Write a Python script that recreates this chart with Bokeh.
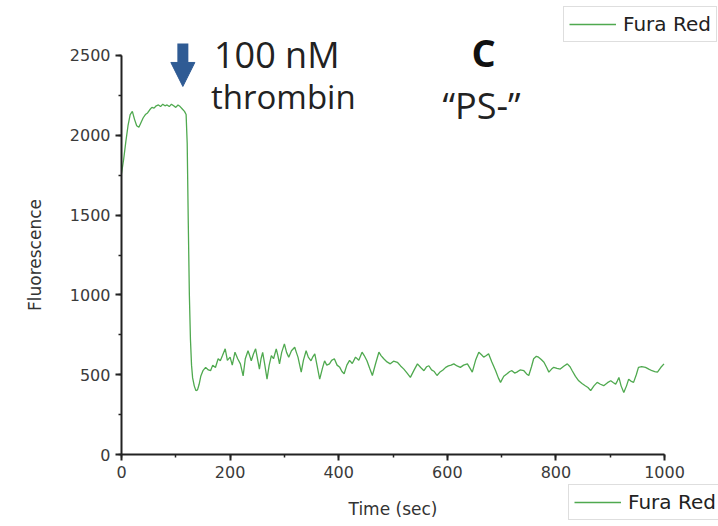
from bokeh.plotting import figure
from bokeh.models import Range1d, Label, Arrow, NormalHead, Legend, LegendItem, SingleIntervalTicker
from bokeh.embed import file_html
from bokeh.resources import INLINE

# ---------------- data ----------------
time_sec = [
    0, 4, 8, 12, 16, 20, 24, 28, 32, 36, 40, 44, 48, 52, 56, 60, 64, 68, 72, 76,
    80, 84, 88, 92, 96, 100, 104, 108, 112, 116, 119, 121, 123, 125, 127, 129, 131, 134, 137, 140,
    143, 146, 150, 155, 160, 164, 168, 173, 178, 182, 186, 191, 195, 200, 204, 209, 214, 219, 224, 228,
    233, 236, 239, 243, 247, 251, 254, 257, 260, 264, 268, 272, 276, 280, 285, 288, 291, 295, 300, 304,
    308, 313, 319, 322, 325, 331, 335, 340, 344, 349, 352, 356, 360, 365, 370, 374, 378, 383, 387, 392,
    397, 402, 406, 410, 415, 420, 425, 431, 437, 443, 447, 452, 457, 462, 468, 474, 478, 483, 489, 495,
    501, 508, 514, 520, 526, 532, 539, 545, 551, 557, 562, 566, 571, 576, 581, 586, 592, 597, 602, 607,
    612, 618, 624, 630, 637, 642, 646, 652, 658, 663, 667, 672, 676, 682, 689, 694, 698, 704, 710, 715,
    719, 724, 728, 734, 741, 746, 750, 755, 759, 764, 768, 773, 778, 783, 787, 792, 796, 802, 808, 815,
    821, 826, 830, 836, 842, 848, 854, 859, 864, 870, 876, 882, 888, 895, 901, 906, 910, 913, 916, 920,
    925, 930, 934, 938, 943, 948, 952, 958, 965, 971, 977, 982, 987, 993, 999,
]
fluorescence = [
    1760, 1850, 1960, 2060, 2130, 2150, 2100, 2060, 2050, 2080, 2110, 2130, 2140, 2160, 2175, 2170, 2185, 2190, 2180, 2195,
    2185, 2190, 2180, 2195, 2185, 2175, 2190, 2180, 2165, 2150, 2130, 1950, 1450, 1000, 720, 560, 480, 430, 400, 405,
    440, 490, 525, 546, 530, 525, 560, 545, 600, 587, 620, 662, 590, 610, 560, 641, 600, 568, 493, 600,
    650, 620, 587, 630, 662, 590, 535, 600, 640, 560, 472, 560, 620, 600, 662, 620, 568, 640, 693, 640,
    610, 650, 672, 640, 610, 516, 590, 650, 610, 587, 610, 631, 560, 472, 540, 587, 560, 568, 590, 600,
    560, 546, 520, 506, 560, 590, 570, 610, 590, 641, 620, 587, 540, 495, 570, 641, 620, 600, 580, 568,
    585, 578, 555, 535, 510, 483, 530, 568, 545, 525, 550, 556, 530, 520, 495, 515, 530, 546, 555, 560,
    568, 555, 546, 560, 568, 540, 516, 590, 641, 625, 610, 620, 631, 580, 525, 480, 452, 490, 506, 520,
    525, 510, 516, 530, 525, 505, 495, 550, 600, 615, 610, 595, 578, 545, 516, 535, 546, 540, 535, 555,
    568, 550, 525, 490, 462, 445, 431, 420, 400, 430, 452, 440, 431, 450, 462, 450, 441, 460, 483, 430,
    389, 430, 472, 460, 452, 500, 546, 550, 546, 535, 525, 520, 516, 545, 568,
]
series_label = "Fura Red"
x_title = "Time (sec)"
y_title = "Fluorescence"

# ---------------- figure ----------------
# The frame covers the whole canvas; the axes are pinned at the origin so that
# the annotations and both legends can sit anywhere without being clipped.
p = figure(width=718, height=526, output_backend="svg", toolbar_location=None,
           x_range=Range1d(-222.8, 1099.4), y_range=Range1d(-451.1, 2844.6),
           min_border_left=0, min_border_right=0, min_border_top=0, min_border_bottom=0)
p.outline_line_color = None
p.grid.visible = False
p.background_fill_color = "white"

line = p.line(time_sec, fluorescence, line_color="#4fa94f", line_width=1.3)

for ax in (p.xaxis, p.yaxis):
    ax.fixed_location = 0
    ax.axis_line_width = 2
    ax.axis_line_color = "#222222"
    ax.major_tick_line_width = 2
    ax.major_tick_line_color = "#222222"
    ax.minor_tick_line_width = 1.5
    ax.minor_tick_line_color = "#222222"
    ax.major_tick_out = 6
    ax.major_tick_in = 0
    ax.minor_tick_out = 3
    ax.minor_tick_in = 0
    ax.major_label_text_font = "DejaVu Sans"
    ax.major_label_text_font_size = "16px"
    ax.major_label_text_color = "#3a3a3a"
    ax.major_label_standoff = 5
    ax.axis_label_text_font = "DejaVu Sans"
    ax.axis_label_text_font_size = "17px"
    ax.axis_label_text_font_style = "normal"
    ax.axis_label_text_color = "#333333"

p.xaxis.bounds = (0, 1000)
p.yaxis.bounds = (0, 2500)
p.xaxis.ticker = SingleIntervalTicker(interval=200, num_minor_ticks=2)
p.yaxis.ticker = SingleIntervalTicker(interval=500, num_minor_ticks=2)
p.xaxis.axis_label = x_title
p.yaxis.axis_label = y_title
p.xaxis.axis_label_standoff = 18
p.yaxis.axis_label_standoff = 22

# ---------------- annotations ----------------
title_font = "Open Sans"
p.add_layout(Label(x=286, y=2506, text="100 nM", text_align="center", text_baseline="alphabetic",
                   text_font=title_font, text_font_size="36px", text_color="#222222"))
p.add_layout(Label(x=298, y=2244, text="thrombin", text_align="center", text_baseline="alphabetic",
                   text_font=title_font, text_font_size="33px", text_color="#222222"))
p.add_layout(Label(x=667, y=2525, text="C", text_align="center", text_baseline="alphabetic",
                   text_font=title_font, text_font_size="38px", text_font_style="bold", text_color="#111111"))
p.add_layout(Label(x=663, y=2188, text="\u201cPS-\u201d", text_align="center", text_baseline="alphabetic",
                   text_font=title_font, text_font_size="36px", text_color="#222222"))
p.add_layout(Arrow(x_start=113, y_start=2575, x_end=113, y_end=2306,
                   line_color="#2f5b94", line_width=11,
                   end=NormalHead(size=24, fill_color="#2f5b94", line_color="#2f5b94", line_width=1)))

# ---------------- legends ----------------
def make_legend(loc):
    lg = Legend(items=[LegendItem(label=series_label, renderers=[line])], location=loc)
    lg.border_line_color = "#bdbdbd"
    lg.border_line_width = 1.5
    lg.background_fill_color = "white"
    lg.background_fill_alpha = 1.0
    lg.padding = 5
    lg.margin = 0
    lg.spacing = 0
    lg.glyph_width = 47
    lg.glyph_height = 18
    lg.label_standoff = 7
    lg.label_text_font = "DejaVu Sans"
    lg.label_text_font_size = "20px"
    lg.label_text_color = "#222222"
    return lg

p.add_layout(make_legend((563, 484)))
p.add_layout(make_legend((568, 6)))

open("out.html", "w").write(file_html(p, INLINE))
